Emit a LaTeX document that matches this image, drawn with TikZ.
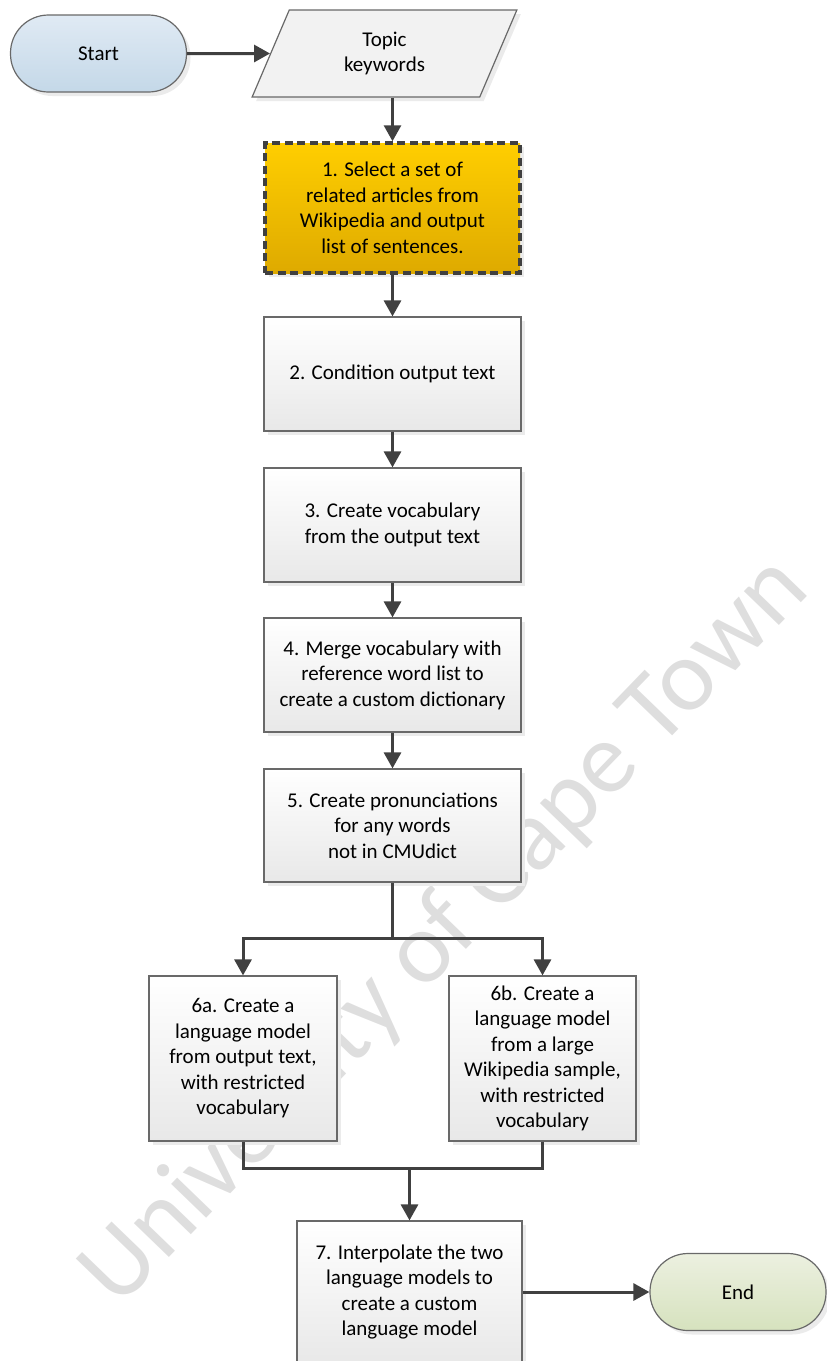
\documentclass[tikz,border=0pt]{standalone}
\usepackage{fontspec}
\setmainfont{Carlito}
\usepackage{xcolor}
\usepackage{tikz}
\usetikzlibrary{arrows.meta,positioning,shapes.geometric,shadows}
\definecolor{flowline}{RGB}{64,64,64}
\definecolor{boxedge}{RGB}{105,105,105}
\definecolor{goldtop}{RGB}{255,206,0}
\definecolor{goldbot}{RGB}{222,170,0}
\definecolor{starttop}{RGB}{224,234,244}
\definecolor{startbot}{RGB}{196,216,232}
\definecolor{endtop}{RGB}{236,240,224}
\definecolor{endbot}{RGB}{214,226,190}
\definecolor{marktext}{RGB}{222,222,222}

\tikzset{
  every node/.style={font=\fontsize{21}{25.5}\selectfont, align=center, inner sep=0pt},
  softshadow/.style={drop shadow={shadow xshift=4pt, shadow yshift=-4pt, fill=black!8, opacity=1}},
  procbox/.style={rectangle, draw=boxedge, line width=1.2pt, top color=white, bottom color=black!9, softshadow},
  terminal/.style={rectangle, rounded corners=38pt, draw=boxedge, line width=1.2pt, minimum width=176pt, minimum height=77pt, softshadow},
  inputbox/.style={trapezium, trapezium left angle=70, trapezium right angle=110, trapezium stretches=true,
    draw=boxedge, line width=1.2pt, fill=black!5, minimum width=265pt, minimum height=87pt, softshadow},
  selectbox/.style={procbox, draw=flowline, line width=3.5pt, dash pattern=on 8pt off 4.5pt, top color=goldtop, bottom color=goldbot},
  flow/.style={draw=flowline, line width=3pt},
  arr/.style={flow, -{Triangle[width=17pt, length=16pt]}}
}

\begin{document}
\begin{tikzpicture}[x=1pt, y=-1pt]
    \useasboundingbox (0,0) rectangle (827,1361);
    % watermark
    \node[rotate=46, text=marktext, font=\fontsize{102}{106}\selectfont] (mark) at (446,932) {University of Cape Town};
    % Start and input
    \node[terminal, top color=starttop, bottom color=startbot] (start) at (98.5,53.5) {Start};
    \node[inputbox] (topic) at (384.5,53.5) {Topic\\keywords};
    % main column
    \node[selectbox, minimum width=255pt, minimum height=130pt] (s1) at (392.5,208) {1. Select a set of\\related articles from\\Wikipedia and output\\list of sentences.};
    \node[procbox, minimum width=257pt, minimum height=114pt] (s2) at (392.5,374) {2. Condition output text};
    \node[procbox, minimum width=257pt, minimum height=114pt] (s3) at (392.5,525) {3. Create vocabulary\\from the output text};
    \node[procbox, minimum width=257pt, minimum height=114pt] (s4) at (392.5,675) {4. Merge vocabulary with\\reference word list to\\create a custom dictionary};
    \node[procbox, minimum width=257pt, minimum height=113pt] (s5) at (392.5,825.5) {5. Create pronunciations\\for any words\\not in CMUdict};
    % two language models
    \node[procbox, minimum width=188pt, minimum height=165pt] (s6a) at (243,1058.5) {6a. Create a\\language model\\from output text,\\with restricted\\vocabulary};
    \node[procbox, minimum width=187pt, minimum height=165pt] (s6b) at (542.5,1058.5) {6b. Create a\\language model\\from a large\\Wikipedia sample,\\with restricted\\vocabulary};
    % interpolation and end
    \node[procbox, minimum width=225pt, minimum height=142pt] (s7) at (409.5,1292) {7. Interpolate the two\\language models to\\create a custom\\language model};
    \node[terminal, top color=endtop, bottom color=endbot] (end) at (738,1292) {End};
    \coordinate (split) at (392.5,938);
    \coordinate (join) at (409.5,1168);

    \draw[arr] (start) -- (topic);
    \draw[arr] (s1.north |- topic.south) -- (s1.north);
    \draw[arr] (s1) -- (s2);
    \draw[arr] (s2) -- (s3);
    \draw[arr] (s3) -- (s4);
    \draw[arr] (s4) -- (s5);
    \draw[flow] (s5) -- (split);
    \draw[arr] (split) -| (s6a.north);
    \draw[arr] (split) -| (s6b.north);
    \draw[flow] (s6a.south) |- (join);
    \draw[flow] (s6b.south) |- (join);
    \draw[arr] (join) -- (s7);
    \draw[arr] (s7) -- (end);
\end{tikzpicture}
\end{document}
